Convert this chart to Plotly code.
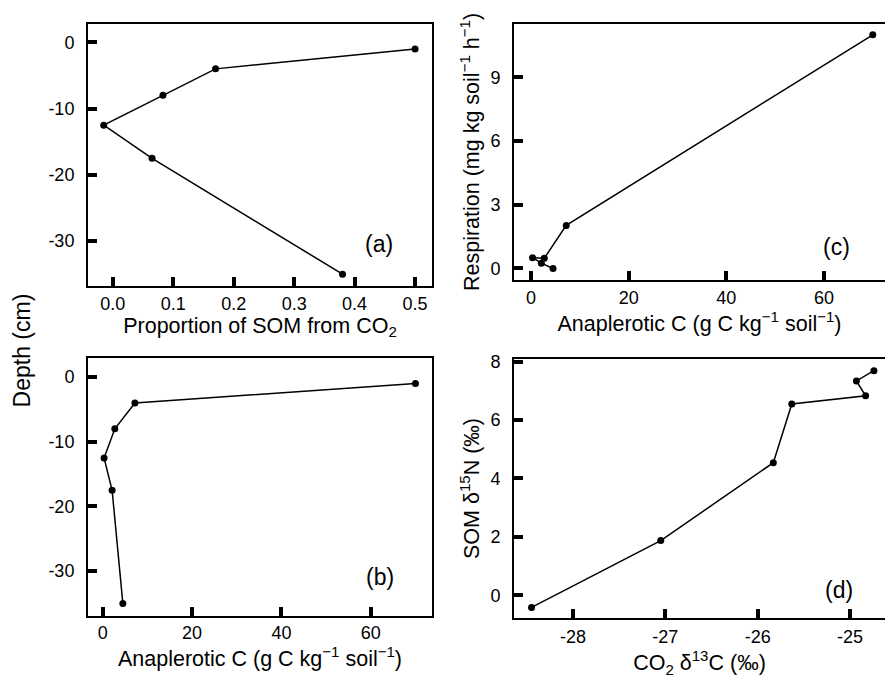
import plotly.graph_objects as go

# Soil profile measurements (depth in cm, negative downward)
depth = [-1, -4, -8, -12.5, -17.5, -35]
prop_som_co2 = [0.50, 0.17, 0.083, -0.015, 0.065, 0.38]
anaplerotic_c = [70, 7.2, 2.7, 0.3, 2.1, 4.5]
respiration = [11.0, 2.03, 0.48, 0.51, 0.25, 0.0]

# Isotope pairs
co2_d13c = [-28.45, -27.05, -25.83, -25.63, -24.83, -24.93, -24.74]
som_d15n = [-0.42, 1.87, 4.54, 6.55, 6.83, 7.34, 7.69]

# Tick values / labels
depth_ticks = [0, -10, -20, -30]
depth_text = ["0", "-10", "-20", "-30"]
prop_ticks = [0.0, 0.1, 0.2, 0.3, 0.4, 0.5]
anap_ticks = [0, 20, 40, 60]
resp_ticks = [0, 3, 6, 9]
d13c_ticks = [-28, -27, -26, -25]
d13c_text = ["-28", "-27", "-26", "-25"]
d15n_ticks = [0, 2, 4, 6, 8]

FONT = "Liberation Sans, Arial, sans-serif"
W, H = 885, 682


def px_x(a, b):
    return [a / W, b / W]


def px_y(top, bottom):
    return [1 - bottom / H, 1 - top / H]


line_style = dict(color="black", width=1.5)
marker_style = dict(color="black", size=7)

fig = go.Figure()
fig.add_trace(go.Scatter(x=prop_som_co2, y=depth, xaxis="x", yaxis="y",
                         mode="lines+markers", line=line_style, marker=marker_style))
fig.add_trace(go.Scatter(x=anaplerotic_c, y=depth, xaxis="x2", yaxis="y2",
                         mode="lines+markers", line=line_style, marker=marker_style))
fig.add_trace(go.Scatter(x=anaplerotic_c, y=respiration, xaxis="x3", yaxis="y3",
                         mode="lines+markers", line=line_style, marker=marker_style))
fig.add_trace(go.Scatter(x=co2_d13c, y=som_d15n, xaxis="x4", yaxis="y4",
                         mode="lines+markers", line=line_style, marker=marker_style))

axis_common = dict(
    showline=True, linecolor="black", linewidth=2,
    ticks="inside", ticklen=9, tickwidth=4, tickcolor="black",
    showgrid=False, zeroline=False,
    tickfont=dict(family=FONT, size=18, color="black"),
)
title_font = dict(family=FONT, size=21.5, color="black")

fig.update_layout(
    width=W, height=H,
    margin=dict(l=0, r=0, t=0, b=0),
    paper_bgcolor="white", plot_bgcolor="white",
    showlegend=False,
    font=dict(family=FONT, color="black"),
    # (a)
    xaxis=dict(axis_common, domain=px_x(88, 432), range=[-0.041, 0.528],
               anchor="y", mirror=True, tickvals=prop_ticks, tickformat=".1f",
               ticklabelstandoff=0,
               title=dict(text="Proportion of SOM from CO<sub>2</sub>",
                          font=title_font, standoff=0)),
    yaxis=dict(axis_common, domain=px_y(17, 282), range=[-36.8, 2.8],
               anchor="x", mirror=True, tickvals=depth_ticks, ticktext=depth_text,
               ticklabelstandoff=8),
    # (b)
    xaxis2=dict(axis_common, domain=px_x(88, 432), range=[-3.3, 73.7],
                anchor="y2", mirror=True, tickvals=anap_ticks,
                ticklabelstandoff=0,
                title=dict(text="Anaplerotic C (g C kg<sup>−1</sup> soil<sup>−1</sup>)",
                           font=title_font, standoff=0)),
    yaxis2=dict(axis_common, domain=px_y(355, 615), range=[-36.9, 2.9],
                anchor="x2", mirror=True, tickvals=depth_ticks, ticktext=depth_text,
                ticklabelstandoff=8),
    # (c)
    xaxis3=dict(axis_common, domain=px_x(514, 885), range=[-3.5, 72.5],
                anchor="y3", mirror=True, tickvals=anap_ticks,
                ticklabelstandoff=0,
                title=dict(text="Anaplerotic C (g C kg<sup>−1</sup> soil<sup>−1</sup>)",
                           font=title_font, standoff=0)),
    yaxis3=dict(axis_common, domain=px_y(17, 276), range=[-0.55, 11.52],
                anchor="x3", mirror=False, tickvals=resp_ticks,
                ticklabelstandoff=8,
                title=dict(text="Respiration (mg kg soil<sup>−1</sup> h<sup>−1</sup>)",
                           font=title_font, standoff=5)),
    # (d)
    xaxis4=dict(axis_common, domain=px_x(514, 885), range=[-28.64, -24.62],
                anchor="y4", mirror=True, tickvals=d13c_ticks, ticktext=d13c_text,
                ticklabelstandoff=2,
                title=dict(text="CO<sub>2</sub> δ<sup>13</sup>C (‰)",
                           font=title_font, standoff=3)),
    yaxis4=dict(axis_common, domain=px_y(356, 617), range=[-0.77, 8.08],
                anchor="x4", mirror=False, tickvals=d15n_ticks,
                ticklabelstandoff=8,
                title=dict(text="SOM δ<sup>15</sup>N (‰)",
                           font=title_font, standoff=5)),
)

# Panel letters
panel_font = dict(family=FONT, size=23, color="black")
for ax, label, xf, yf in [
    ("", "(a)", 0.847, 0.160),
    ("2", "(b)", 0.85, 0.15),
    ("3", "(c)", 0.87, 0.13),
    ("4", "(d)", 0.875, 0.107),
]:
    fig.add_annotation(xref=f"x{ax} domain", yref=f"y{ax} domain", x=xf, y=yf,
                       text=label, showarrow=False, font=panel_font,
                       xanchor="center", yanchor="middle")

# Shared depth label for the left column
fig.add_annotation(xref="paper", yref="paper", x=22 / W, y=1 - 347 / H,
                   text="Depth (cm)", textangle=-90, showarrow=False,
                   font=dict(family=FONT, size=23, color="black"),
                   xanchor="center", yanchor="middle")

fig.write_html("out.html")
